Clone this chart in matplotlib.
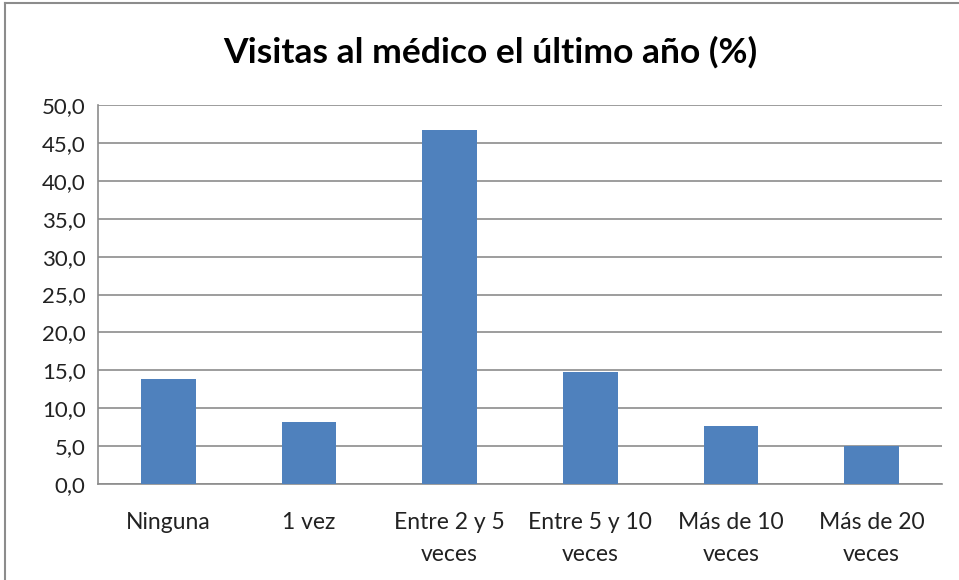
import matplotlib.pyplot as plt
from matplotlib.lines import Line2D
from matplotlib.ticker import FuncFormatter

categorias = ["Ninguna", "1 vez", "Entre 2 y 5\nveces", "Entre 5 y 10\nveces",
              "Más de 10\nveces", "Más de 20\nveces"]
porcentajes = [13.8, 8.2, 46.7, 14.8, 7.7, 5.0]
yticks = [0, 5, 10, 15, 20, 25, 30, 35, 40, 45, 50]

plt.rcParams['font.family'] = ['Lato', 'DejaVu Sans']

fig = plt.figure(figsize=(9.59, 5.8), dpi=100)
ax = fig.add_axes([98 / 959, 1 - 484 / 580, 844 / 959, 379 / 580])

x = range(len(categorias))
ax.bar(x, porcentajes, width=0.39, color='#4F81BD', zorder=3)

ax.set_xlim(-0.5, len(categorias) - 0.5)
ax.set_ylim(0, 50)
ax.set_yticks(yticks)
ax.yaxis.set_major_formatter(FuncFormatter(lambda v, p: ("%.1f" % v).replace(".", ",")))
ax.set_xticks(list(x))
ax.set_xticklabels(categorias, linespacing=1.65)
ax.tick_params(axis='x', length=0, labelsize=16.5, colors='#222222', pad=20)
ax.tick_params(axis='y', length=0, labelsize=16, colors='#222222', pad=9)
ax.grid(axis='y', color='#8c8c8c', linewidth=1.2, zorder=0)

for s in ['top', 'right']:
    ax.spines[s].set_visible(False)
for s in ['left', 'bottom']:
    ax.spines[s].set_color('#8c8c8c')
    ax.spines[s].set_linewidth(1.2)

fig.text(490 / 959, 1 - 52 / 580, "Visitas al médico el último año (%)",
         ha='center', va='center', fontsize=25.5, fontweight='bold')

# marco exterior del gráfico
fig.add_artist(Line2D([5 / 959, 5 / 959], [0, 1 - 3 / 580], transform=fig.transFigure,
                      color='#8c8c8c', linewidth=1.5))
fig.add_artist(Line2D([5 / 959, 1], [1 - 3 / 580, 1 - 3 / 580], transform=fig.transFigure,
                      color='#8c8c8c', linewidth=1.5))

plt.savefig("out.png", dpi=100)
